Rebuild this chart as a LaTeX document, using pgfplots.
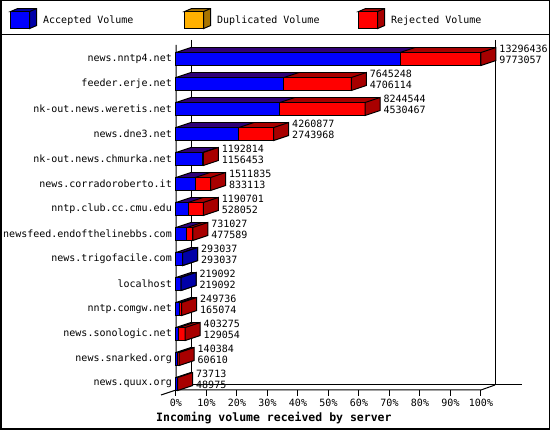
\documentclass[border=0pt]{standalone}
\usepackage{fontspec}
\setmainfont{DejaVu Sans Mono}
\usepackage{pgfplots}
\usepackage{pgfplotstable}
\pgfplotsset{compat=1.18}

\definecolor{acc}{HTML}{0000FF}
\definecolor{accdk}{HTML}{0000A8}
\definecolor{dup}{HTML}{FFB000}
\definecolor{dupdk}{HTML}{A87400}
\definecolor{rej}{HTML}{FF0000}
\definecolor{rejdk}{HTML}{A80000}

% edges of the 3d bars
\pgfdeclareplotmark{topdiag}{%
  \pgfpathmoveto{\pgfqpoint{0pt}{6.5pt}}%
  \pgfpathlineto{\pgfqpoint{15pt}{11.5pt}}%
  \pgfusepathqstroke}
\pgfdeclareplotmark{sideface}{%
  \pgfpathmoveto{\pgfqpoint{0pt}{6.5pt}}%
  \pgfpathlineto{\pgfqpoint{15pt}{11.5pt}}%
  \pgfpathlineto{\pgfqpoint{15pt}{-1.5pt}}%
  \pgfpathlineto{\pgfqpoint{0pt}{-6.5pt}}%
  \pgfpathclose
  \pgfusepathqfillstroke}

\pgfplotsset{cube/.style 2 args={legend image code/.code={
  \draw[line width=1pt, fill=#2] (0pt,8.5pt)--(7pt,11.5pt)--(26pt,11.5pt)--(26pt,-5.5pt)--(19pt,-8.5pt)--(19pt,8.5pt)--cycle;
  \draw[line width=1pt] (19pt,8.5pt)--(26pt,11.5pt);
  \draw[line width=1pt, fill=#1] (0pt,-8.5pt) rectangle (19pt,8.5pt);}}}

% bottom row first; total volume and accepted volume
\pgfplotstableread{
name total acc
news.quux.org 73713 48975
news.snarked.org 140384 60610
news.sonologic.net 403275 129054
nntp.comgw.net 249736 165074
localhost 219092 219092
news.trigofacile.com 293037 293037
newsfeed.endofthelinebbs.com 731027 477589
nntp.club.cc.cmu.edu 1190701 528052
news.corradoroberto.it 1511835 833113
nk-out.news.chmurka.net 1192814 1156453
news.dne3.net 4260877 2743968
nk-out.news.weretis.net 8244544 4530467
feeder.erje.net 7645248 4706114
news.nntp4.net 13296436 9773057
}\servers

\begin{document}
\begin{tikzpicture}
\useasboundingbox (0,0) rectangle (550pt,-430pt);
\draw[line width=1.5pt] (0.75pt,-0.75pt) rectangle (549.25pt,-429.25pt);
\draw[line width=1pt] (0,-35pt) -- (550pt,-35pt);
% back walls
\draw[line width=1pt] (191pt,-40pt) -- (191pt,-385pt) -- (522pt,-385pt);
\draw[line width=1pt] (495pt,-40pt) -- (495pt,-385pt);
% front axes
\draw[line width=1pt] (176pt,-45pt) -- (176pt,-390pt) -- (481pt,-390pt) -- (495pt,-385pt);
\draw[line width=1pt] (161pt,-395pt) -- (176pt,-390pt);
\begin{axis}[
  at={(176pt,-390pt)}, anchor=south west,
  scale only axis, width=305pt, height=345pt,
  xmin=0, xmax=100, ymin=-0.24, ymax=13.56,
  clip=false,
  axis line style={draw=none},
  xtick={0,10,...,100},
  xtick pos=left,
  tick align=outside, major tick length=6pt,
  xtick style={line width=1pt, black},
  xticklabel={\pgfmathprintnumber{\tick}\%},
  ytick={0,...,13},
  yticklabels from table={\servers}{name},
  ytick style={draw=none},
  yticklabel style={inner sep=0pt, xshift=2pt},
  xticklabel style={inner sep=0pt, yshift=-2.5pt},
  tick label style={font=\fontsize{10}{12}\selectfont},
  /pgf/number format/assume math mode=true,
  xlabel={Incoming volume received by server},
  xlabel style={at={(axis description cs:-0.0656,-0.0800)}, anchor=west,
    inner sep=0pt, font=\bfseries\fontsize{11.5}{13}\selectfont},
  legend columns=3,
  legend style={at={(-0.5443,1.0768)}, anchor=west, draw=none, fill=none,
    inner sep=0pt, nodes={inner sep=0pt}, font=\fontsize{10}{12}\selectfont,
    /tikz/every odd column/.append style={column sep=6pt},
    /tikz/every even column/.append style={column sep=0pt}},
  legend cell align=left,
]
\addlegendimage{cube={acc}{accdk}}
\addlegendentry{\makebox[141pt][l]{Accepted Volume}}
\addlegendimage{cube={dup}{dupdk}}
\addlegendentry{\makebox[141pt][l]{Duplicated Volume}}
\addlegendimage{cube={rej}{rejdk}}
\addlegendentry{\makebox[100pt][l]{Rejected Volume}}

% depth of the bars (top faces)
\pgfplotsinvokeforeach{15,14,...,1}{
  \addplot[xbar, bar width=13pt, draw=none, fill=rejdk, xshift=#1pt, yshift=#1pt/3]
    table[x expr=\thisrow{total}/132964.36, y expr=\coordindex]{\servers};
  \addplot[xbar, bar width=13pt, draw=none, fill=accdk, xshift=#1pt, yshift=#1pt/3]
    table[x expr=\thisrow{acc}/132964.36, y expr=\coordindex]{\servers};
}

% front faces
\addplot[xbar, bar width=13pt, fill=rej, draw=black, line width=1pt,
  visualization depends on={\thisrow{total}\as\tot},
  visualization depends on={\thisrow{acc}\as\accv},
  nodes near coords={\pgfmathprintnumber[fixed,precision=0,1000 sep={}]{\tot}\\\pgfmathprintnumber[fixed,precision=0,1000 sep={}]{\accv}},
  nodes near coords style={anchor=west, xshift=18pt, yshift=4.5pt, align=left,
    inner sep=0pt, black, font=\fontsize{10}{11}\selectfont}]
  table[x expr=\thisrow{total}/132964.36, y expr=\coordindex]{\servers};
\addplot[xbar, bar width=13pt, fill=acc, draw=black, line width=1pt]
  table[x expr=\thisrow{acc}/132964.36, y expr=\coordindex]{\servers};

% outlines of the depth, side faces
\addplot[xbar, bar width=0pt, fill=none, draw=black, line width=1pt, xshift=15pt, yshift=11.5pt]
  table[x expr=\thisrow{total}/132964.36, y expr=\coordindex]{\servers};
\addplot[only marks, mark=topdiag, mark options={draw=black, line width=1pt}]
  table[x expr=0, y expr=\coordindex]{\servers};
\addplot[only marks, mark=topdiag, mark options={draw=black, line width=1pt}]
  table[x expr=\thisrow{acc}/132964.36, y expr=\coordindex]{\servers};
\addplot[only marks, mark=sideface, mark options={draw=black, fill=rejdk, line width=1pt}]
  table[x expr=\thisrow{total}/132964.36, y expr=\coordindex]{\servers};
% rows with nothing rejected: blue side face
\addplot[only marks, mark=sideface, mark options={draw=black, fill=accdk, line width=1pt},
  skip coords between index={0}{4}, skip coords between index={6}{14}]
  table[x expr=\thisrow{total}/132964.36, y expr=\coordindex]{\servers};
\end{axis}
\end{tikzpicture}
\end{document}
